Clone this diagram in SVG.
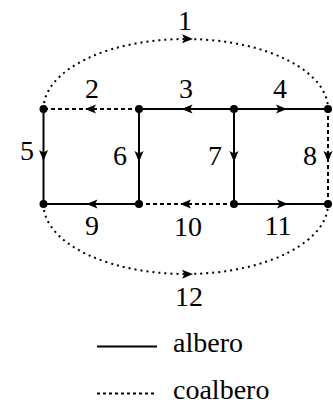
<svg xmlns="http://www.w3.org/2000/svg" width="333" height="405" viewBox="0 0 333 405">
<style>
.e{fill:none;stroke:#000;stroke-width:2;marker-mid:url(#ah)}
.t{stroke-dasharray:none}
.d{stroke-dasharray:4 3}
.arc{stroke-dasharray:2 4}
.n{fill:#000}
text{font-family:"Liberation Serif","Times New Roman",serif;font-size:28px;fill:#000;text-anchor:middle}
.lg{text-anchor:start}
</style>
<defs>
<marker id="ah" markerUnits="userSpaceOnUse" markerWidth="14" markerHeight="12" viewBox="-12 -6 14 12" refX="0" refY="0" orient="auto">
<path d="M0,0 L-11,-4.5 L-8.5,0 L-11,4.5 Z" fill="#000" stroke="none"/>
</marker>
</defs>
<g id="connectors">
<path id="e1" class="e arc" d="M43.5,109 A142.25,70 0 0 1 193,39.1 A142.25,70 0 0 1 328,109"/>
<path id="e12" class="e arc" d="M43.5,204 A142.25,70 0 0 0 193,273.9 A142.25,70 0 0 0 328,204"/>
<path id="e2" class="e d" d="M139,109 L85,109 L43.5,109"/>
<path id="e3" class="e t" d="M234,109 L181.5,109 L139,109"/>
<path id="e4" class="e t" d="M234,109 L287,109 L328,109"/>
<path id="e5" class="e t" d="M43.5,109 L43.5,161 L43.5,204"/>
<path id="e6" class="e t" d="M139,109 L139,162 L139,204"/>
<path id="e7" class="e t" d="M234,109 L234,162 L234,204"/>
<path id="e8" class="e d" d="M328,109 L328,162 L328,204"/>
<path id="e9" class="e t" d="M139,204 L86.5,204 L43.5,204"/>
<path id="e10" class="e d" d="M234,204 L180,204 L139,204"/>
<path id="e11" class="e t" d="M234,204 L288,204 L328,204"/>
</g>
<g id="nA"><circle class="n" cx="43.5" cy="109" r="4"/></g>
<g id="nB"><circle class="n" cx="139" cy="109" r="4"/></g>
<g id="nC"><circle class="n" cx="234" cy="109" r="4"/></g>
<g id="nD"><circle class="n" cx="328" cy="109" r="4"/></g>
<g id="nE"><circle class="n" cx="43.5" cy="204" r="4"/></g>
<g id="nF"><circle class="n" cx="139" cy="204" r="4"/></g>
<g id="nG"><circle class="n" cx="234" cy="204" r="4"/></g>
<g id="nH"><circle class="n" cx="328" cy="204" r="4"/></g>
<g id="labels">
<text x="185" y="30">1</text>
<text x="92" y="98">2</text>
<text x="186" y="98">3</text>
<text x="280" y="98">4</text>
<text x="27" y="160">5</text>
<text x="120" y="165">6</text>
<text x="215" y="165">7</text>
<text x="310" y="165">8</text>
<text x="92" y="235">9</text>
<text x="188" y="236">10</text>
<text x="278" y="235">11</text>
<text x="189" y="306">12</text>
</g>
<g id="legend">
<line x1="97" y1="346.5" x2="157" y2="346.5" stroke="#000" stroke-width="2"/>
<text class="lg" x="173" y="352">albero</text>
<line x1="97" y1="393.5" x2="157" y2="393.5" stroke="#000" stroke-width="2" stroke-dasharray="3 3"/>
<text class="lg" x="173" y="398.5">coalbero</text>
</g>
</svg>
